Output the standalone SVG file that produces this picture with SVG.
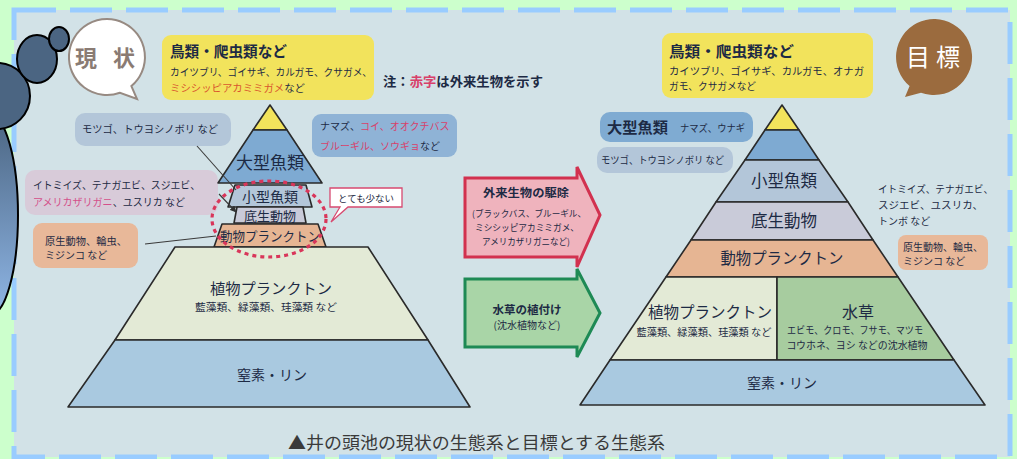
<svg xmlns="http://www.w3.org/2000/svg" width="1017" height="459" viewBox="0 0 1017 459">
<defs>
<linearGradient id="gTall" x1="0" y1="0" x2="0" y2="1"><stop offset="0" stop-color="#4b6582"/><stop offset="1" stop-color="#8fb6e6"/></linearGradient>
<marker id="arr" viewBox="0 0 10 10" refX="9" refY="5" markerWidth="6" markerHeight="6" orient="auto"><path d="M0,0 L10,5 L0,10 z" fill="#333"/></marker>
<style>
text{font-family:"Noto Sans CJK JP","Noto Sans CJK SC",sans-serif;fill:#1d2a44}
.c{text-anchor:middle}
.b{font-weight:700}
.lay{stroke:#2a2a2a;stroke-width:1.6;stroke-linejoin:round}
.yel{fill:#f2e35c}
.big{fill:#7eaad2}
.sm{fill:#b3c6d9}
.ben{fill:#c9cbd9}
.zoo{fill:#e6b593}
.phy{fill:#e3ead6}
.np{fill:#a9c9e0}
.weed{fill:#a7cc9f}
.red{fill:#d8406a}
.org{fill:#d9562e}
.ln{stroke:#3a3a3a;stroke-width:1.1;fill:none}
.s10{font-size:10px}
</style>
</defs>
<rect width="1017" height="459" fill="#ccffcc"/>
<rect x="14" y="10" width="996" height="447" fill="#d2e2e7" stroke="#99ccff" stroke-width="5" stroke-dasharray="42 14"/>

<!-- speech bubbles -->
<g id="bubble-now">
<path d="M131.4 86.1 L137 99 L120 92.7 A38 38 0 1 1 131.4 86.1 Z" fill="#ffffff" stroke="#978a82" stroke-width="2"/>
<text y="66" style="font-size:22px;fill:#8a7b73" class="b"><tspan x="75">現</tspan><tspan x="113">状</tspan></text>
</g>
<g id="bubble-goal">
<path d="M921 92.7 L905 97 L909.6 86.1 A38 38 0 1 1 921 92.7 Z" fill="#9b6b3e"/>
<text y="66" style="font-size:24px;fill:#ffffff"><tspan x="906">目</tspan><tspan x="936">標</tspan></text>
</g>

<!-- current: labels -->
<g id="birds-now">
<rect x="162" y="35" width="212" height="65" rx="9" class="yel"/>
<text x="170" y="57" class="b" style="font-size:15px" textLength="117" lengthAdjust="spacingAndGlyphs">鳥類・爬虫類など</text>
<text x="170" y="76" class="s10" textLength="202" lengthAdjust="spacingAndGlyphs">カイツブリ、ゴイサギ、カルガモ、クサガメ、</text>
<text x="170" y="92" class="s10" textLength="135" lengthAdjust="spacingAndGlyphs"><tspan class="org">ミシシッピアカミミガメ</tspan>など</text>
</g>
<g id="note">
<text x="383" y="86" class="b" style="font-size:13px" textLength="160" lengthAdjust="spacingAndGlyphs">注：<tspan class="red">赤字</tspan>は外来生物を示す</text>
</g>
<g id="label-motsugo-now">
<rect x="75" y="113" width="156" height="33" rx="10" class="sm"/>
<text x="82" y="133" style="font-size:10.5px" textLength="136" lengthAdjust="spacingAndGlyphs">モツゴ、トウヨシノボリ など</text>
</g>
<g id="label-benthos-now">
<rect x="25" y="170" width="193" height="45" rx="10" fill="#d8cbd9"/>
<text x="33" y="189" style="font-size:10.5px" textLength="167" lengthAdjust="spacingAndGlyphs">イトミイズ、テナガエビ、スジエビ、</text>
<text x="33" y="206" style="font-size:10.5px" textLength="152" lengthAdjust="spacingAndGlyphs"><tspan fill="#d4508a">アメリカザリガニ</tspan>、ユスリカ など</text>
</g>
<g id="label-zoo-now">
<rect x="33" y="223" width="105" height="45" rx="9" fill="#e8b899"/>
<text x="45" y="245" style="font-size:10px" textLength="82" lengthAdjust="spacingAndGlyphs">原生動物、輪虫、</text>
<text x="45" y="259" style="font-size:10px">ミジンコ など</text>
</g>
<g id="label-largefish-now">
<rect x="312" y="114" width="145" height="43" rx="9" fill="#8fb3d6"/>
<text x="320" y="130" style="font-size:10px">ナマズ、<tspan class="red">コイ、オオクチバス</tspan></text>
<text x="320" y="150" style="font-size:10px"><tspan class="red">ブルーギル、ソウギョ</tspan>など</text>
</g>
<g id="callout-few">
<path d="M330 188 H402 V207 H348 L331 222 L340 207 H330 Z" fill="#ffffff" stroke="#d84a70" stroke-width="1.3"/>
<text x="366" y="201.5" class="c" style="font-size:9.5px" textLength="56" lengthAdjust="spacingAndGlyphs">とても少ない</text>
</g>

<!-- current pyramid -->
<g id="now-top"><path class="lay yel" d="M270 105 L287 130 L253 130 Z"/></g>
<g id="now-largefish"><path class="lay big" d="M253 130 L287 130 L322 183 L218 183 Z"/>
<text x="270" y="169" class="c" style="font-size:17px">大型魚類</text></g>
<g id="now-smallfish"><path class="lay sm" d="M235 185 L306 185 L312 207 L228 207 Z"/>
<text x="270" y="202" class="c" style="font-size:14px">小型魚類</text></g>
<g id="now-benthos"><path class="lay ben" d="M237 207 L303 207 L306 223 L234 223 Z"/>
<text x="270" y="221" class="c" style="font-size:13px">底生動物</text></g>
<g id="now-zoo"><path class="lay zoo" d="M222 224 L318 224 L326 247 L214 247 Z"/>
<text x="270" y="241" class="c" style="font-size:13px" textLength="100" lengthAdjust="spacingAndGlyphs">動物プランクトン</text></g>
<g id="now-phyto"><path class="lay phy" d="M175 247 L368 247 L428 340 L115 340 Z"/>
<text x="271" y="294" class="c" style="font-size:15px" textLength="122" lengthAdjust="spacingAndGlyphs">植物プランクトン</text>
<text x="266" y="311" class="c s10" textLength="142" lengthAdjust="spacingAndGlyphs">藍藻類、緑藻類、珪藻類 など</text></g>
<g id="now-np"><path class="lay np" d="M115 340 L428 340 L470 407 L68 407 Z"/>
<text x="272" y="380" class="c" style="font-size:14px">窒素・リン</text></g>
<ellipse id="now-circle" cx="269" cy="219" rx="57" ry="38" fill="none" stroke="#d9365a" stroke-width="3.2" stroke-dasharray="4 4"/>

<!-- middle arrows -->
<g id="action-remove">
<path d="M465 178 H577 V167 L600 215 L577 267 V257 H465 Z" fill="#efb3bd" stroke="#d2314f" stroke-width="3" stroke-linejoin="miter"/>
<text x="526" y="197" class="c b" style="font-size:11.5px" textLength="86" lengthAdjust="spacingAndGlyphs">外来生物の駆除</text>
<text x="529" y="217" class="c" style="font-size:9px" textLength="114" lengthAdjust="spacingAndGlyphs">(ブラックバス、ブルーギル、</text>
<text x="527" y="231" class="c" style="font-size:9px" textLength="104" lengthAdjust="spacingAndGlyphs">ミシシッピアカミミガメ、</text>
<text x="526" y="245" class="c" style="font-size:9px" textLength="88" lengthAdjust="spacingAndGlyphs">アメリカザリガニなど)</text>
</g>
<g id="action-plant">
<path d="M465 279 H577 V269 L600 313 L577 357 V347 H465 Z" fill="#a9d5a7" stroke="#1e8a55" stroke-width="3"/>
<text x="527" y="314" class="c b" style="font-size:11.5px">水草の植付け</text>
<text x="527" y="329" class="c" style="font-size:10px">(沈水植物など)</text>
</g>

<!-- goal labels -->
<g id="birds-goal">
<rect x="662" y="33" width="211" height="65" rx="9" class="yel"/>
<text x="669" y="57" class="b" style="font-size:15px" textLength="125" lengthAdjust="spacingAndGlyphs">鳥類・爬虫類など</text>
<text x="669" y="75" class="s10" textLength="195" lengthAdjust="spacingAndGlyphs">カイツブリ、ゴイサギ、カルガモ、オナガ</text>
<text x="669" y="90" class="s10" textLength="87" lengthAdjust="spacingAndGlyphs">ガモ、クサガメなど</text>
</g>
<g id="label-largefish-goal">
<rect x="600" y="112" width="153" height="30" rx="10" fill="#7fabd2"/>
<text x="607" y="133" class="b" style="font-size:15px" textLength="61" lengthAdjust="spacingAndGlyphs">大型魚類</text>
<text x="680" y="132" class="s10" textLength="65" lengthAdjust="spacingAndGlyphs">ナマズ、ウナギ</text>
</g>
<g id="label-motsugo-goal">
<rect x="597" y="147" width="136" height="26" rx="10" class="sm"/>
<text x="601" y="164" class="s10" textLength="123" lengthAdjust="spacingAndGlyphs">モツゴ、トウヨシノボリ など</text>
</g>
<g id="label-benthos-goal">
<text x="878" y="193" class="s10" textLength="115" lengthAdjust="spacingAndGlyphs">イトミイズ、テナガエビ、</text>
<text x="878" y="209" class="s10" textLength="105" lengthAdjust="spacingAndGlyphs">スジエビ、ユスリカ、</text>
<text x="878" y="225" class="s10">トンボ など</text>
</g>
<g id="label-zoo-goal">
<rect x="898" y="235" width="90" height="35" rx="8" fill="#e8b899"/>
<text x="903" y="251" class="s10" textLength="80" lengthAdjust="spacingAndGlyphs">原生動物、輪虫、</text>
<text x="903" y="265" class="s10">ミジンコ など</text>
</g>

<!-- goal pyramid -->
<g id="goal-top"><path class="lay yel" d="M782 105 L799 130 L765 130 Z"/></g>
<g id="goal-largefish"><path class="lay big" d="M765 130 L799 130 L819 160 L745 160 Z"/></g>
<g id="goal-smallfish"><path class="lay sm" d="M745 160 L819 160 L848 202 L716 202 Z"/>
<text x="784" y="187" class="c" style="font-size:16.5px">小型魚類</text></g>
<g id="goal-benthos"><path class="lay ben" d="M716 202 L848 202 L873 240 L691 240 Z"/>
<text x="784" y="227" class="c" style="font-size:16.5px">底生動物</text></g>
<g id="goal-zoo"><path class="lay zoo" d="M691 240 L873 240 L898 277 L666 277 Z"/>
<text x="782" y="264" class="c" style="font-size:15.5px" textLength="123" lengthAdjust="spacingAndGlyphs">動物プランクトン</text></g>
<g id="goal-phyto"><path class="lay phy" d="M666 277 L777 277 L777 360 L610 360 Z"/>
<text x="710" y="318" class="c" style="font-size:15.5px" textLength="124" lengthAdjust="spacingAndGlyphs">植物プランクトン</text>
<text x="704" y="336" class="c s10" textLength="135" lengthAdjust="spacingAndGlyphs">藍藻類、緑藻類、珪藻類 など</text></g>
<g id="goal-weed"><path class="lay weed" d="M777 277 L898 277 L954 360 L777 360 Z"/>
<text x="858" y="318" class="c" style="font-size:16px">水草</text>
<text x="855" y="334" class="c s10" textLength="136" lengthAdjust="spacingAndGlyphs">エビモ、クロモ、フサモ、マツモ</text>
<text x="857" y="349" class="c s10" textLength="141" lengthAdjust="spacingAndGlyphs">コウホネ、ヨシ などの沈水植物</text></g>
<g id="goal-np"><path class="lay np" d="M610 360 L954 360 L985 405 L580 405 Z"/>
<text x="782" y="388" class="c" style="font-size:14px">窒素・リン</text></g>

<!-- connectors -->
<g id="connectors">
<line class="ln" x1="197" y1="146" x2="236" y2="190"/>
<line class="ln" x1="219" y1="194" x2="236" y2="212" marker-end="url(#arr)"/>
<line class="ln" x1="145" y1="244" x2="216" y2="236"/>
</g>

<!-- caption -->
<g id="caption">
<text x="288" y="449" style="font-size:17.5px;fill:#3a3a3a" textLength="377" lengthAdjust="spacingAndGlyphs">▲井の頭池の現状の生態系と目標とする生態系</text>
</g>

<!-- left decoration -->
<g id="decoration" stroke="#000" stroke-width="2">
<ellipse cx="-10" cy="215" rx="28" ry="100" fill="url(#gTall)"/>
<circle cx="-3" cy="96" r="33" fill="#4b6582"/>
<ellipse cx="37" cy="59" rx="20" ry="24" fill="#4b6582"/>
<ellipse cx="59" cy="39" rx="10" ry="12" fill="#4b6582"/>
</g>
</svg>
